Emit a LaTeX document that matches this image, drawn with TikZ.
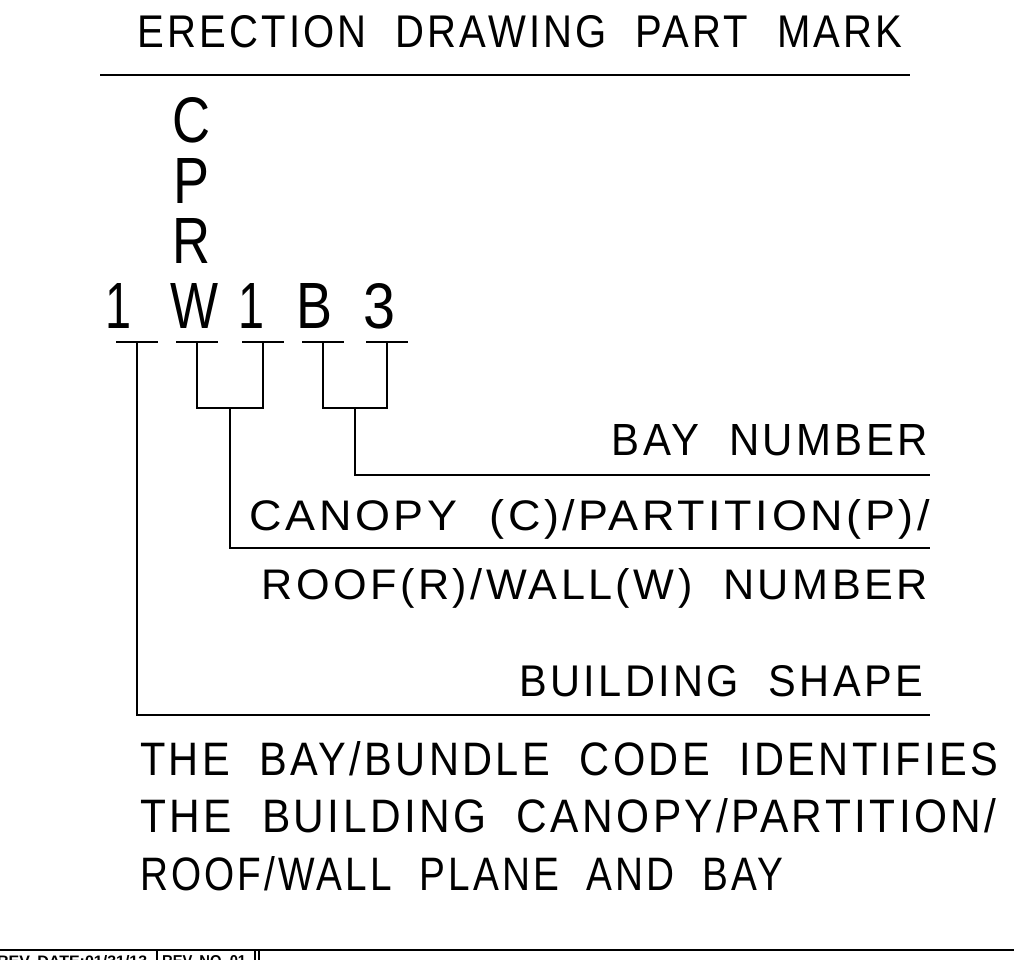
\documentclass[tikz,border=0pt]{standalone}
\usepackage{fontspec}
\setmainfont{Liberation Sans}
\newfontfamily\cadfont{Liberation Sans}[LetterSpace=8, WordSpace=2]
\newfontfamily\markfont{Liberation Sans}
\usetikzlibrary{positioning}
\newcommand{\cad}[3]{\resizebox{#1pt}{#2pt}{\cadfont #3}}
\newcommand{\mk}[2]{\resizebox{#1pt}{45pt}{\markfont #2}}

\begin{document}
\begin{tikzpicture}[
  x=1pt, y=-1pt,
  txt/.style={inner sep=0pt, anchor=base west},
  rtxt/.style={inner sep=0pt, anchor=base east},
  glyph/.style={inner sep=0pt, anchor=base},
  wire/.style={line width=1.6pt},
  frame/.style={line width=2pt}]
  \useasboundingbox (0,0) rectangle (1014,960);
  % heading
  \node[txt] (title) at (137,48) {\cad{765}{32}{ERECTION DRAWING PART MARK}};
  \coordinate (ulL) at (100,75);
  \coordinate (ulR) at (910,75);
  \draw[frame] (ulL) -- (ulR);
  % the part mark
  \node[glyph] (markC) at (192,143) {\mk{38}{C}};
  \node[glyph] (markP) at (192,203) {\mk{36}{P}};
  \node[glyph] (markR) at (192,263) {\mk{38}{R}};
  \node[glyph] (shape) at (119,328) {\mk{26}{1}};
  \node[glyph] (plane) at (195,328) {\mk{48}{W}};
  \node[glyph] (num) at (251,328) {\mk{26}{1}};
  \node[glyph] (bay) at (315,328) {\mk{36}{B}};
  \node[glyph] (baynum) at (380,328) {\mk{32}{3}};
  % tee bars under each character
  \foreach \n/\x in {a/137, b/197, c/263, d/323, e/387} {
    \coordinate (t\n) at (\x,342);
    \draw[wire] (t\n) ++(-21,0) -- ++(42,0);
  }
  \coordinate (jW) at (230,408);
  \coordinate (jB) at (355,408);
  \coordinate (endB) at (930,475);
  \coordinate (endW) at (930,548);
  \coordinate (endA) at (930,715);
  \draw[wire] (tb) |- (jW) -| (tc);
  \draw[wire] (td) |- (jB) -| (te);
  \draw[wire] (jB) |- (endB);
  \draw[wire] (jW) |- (endW);
  \draw[wire] (ta) |- (endA);
  % labels
  \node[rtxt] (baylbl) at (928,455) {\cad{316}{31}{BAY NUMBER}};
  \node[rtxt] (canopylbl) at (930,530) {\cad{680}{31}{CANOPY (C)/PARTITION(P)/}};
  \node[rtxt] (rooflbl) at (928,599) {\cad{666}{31}{ROOF(R)/WALL(W) NUMBER}};
  \node[rtxt] (shapelbl) at (923,696) {\cad{403}{31}{BUILDING SHAPE}};
  % note
  \node[txt] (note1) at (140,775) {\cad{858}{34}{THE BAY/BUNDLE CODE IDENTIFIES}};
  \node[txt] (note2) at (140,832) {\cad{856}{34}{THE BUILDING CANOPY/PARTITION/}};
  \node[txt] (note3) at (140,890) {\cad{643}{34}{ROOF/WALL PLANE AND BAY}};
  % title block strip
  \begin{scope}
    \clip (0,950) rectangle (1014,960);
    \node[txt] (revdate) at (-3,966) {\resizebox{150pt}{11pt}{\bfseries REV. DATE:01/31/13}};
    \node[txt] (revno) at (162,966) {\resizebox{84pt}{11pt}{\bfseries REV. NO. 01}};
  \end{scope}
  \coordinate (stripL) at (0,950);
  \coordinate (stripR) at (1014,950);
  \draw[frame] (stripL) -- (stripR);
  \foreach \x in {157,255,259}
    \draw[line width=1.2pt] (\x,950) -- (\x,960);
\end{tikzpicture}
\end{document}
